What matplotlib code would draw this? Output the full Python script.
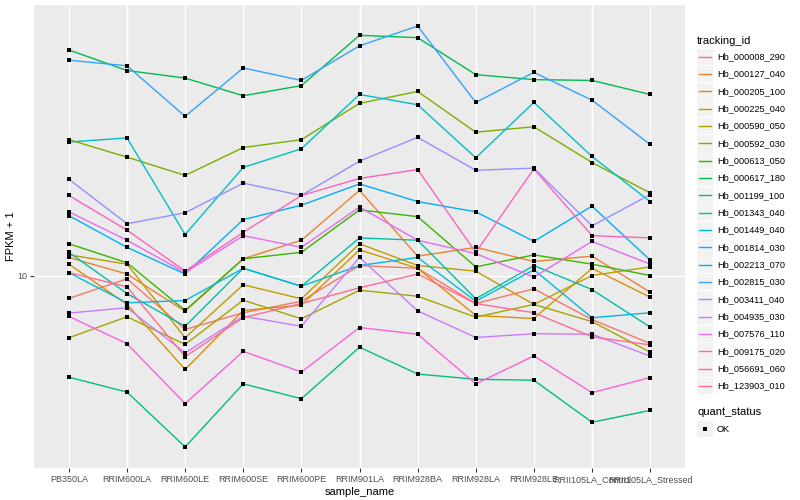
import matplotlib
matplotlib.use('Agg')
import matplotlib.pyplot as plt
from matplotlib.patches import Rectangle
from matplotlib.ticker import NullLocator
import numpy as np

plt.rcParams['font.family'] = ['Liberation Sans', 'DejaVu Sans']

samples = ['PB350LA', 'RRIM600LA', 'RRIM600LE', 'RRIM600SE', 'RRIM600PE',
           'RRIM901LA', 'RRIM928BA', 'RRIM928LA', 'RRIM928LE',
           'RRII105LA_Control', 'RRII105LA_Stressed']

tracking_ids = ['Hb_000008_290', 'Hb_000127_040', 'Hb_000205_100', 'Hb_000225_040',
                'Hb_000590_050', 'Hb_000592_030', 'Hb_000613_050', 'Hb_000617_180',
                'Hb_001199_100', 'Hb_001343_040', 'Hb_001449_040', 'Hb_001814_030',
                'Hb_002213_070', 'Hb_002815_030', 'Hb_003411_040', 'Hb_004935_030',
                'Hb_007576_110', 'Hb_009175_020', 'Hb_056691_060', 'Hb_123903_010']

# FPKM + 1, one list per gene, in sample order
hb_000008_290 = [8.56, 9.78, 6.94, 7.77, 8.40, 10.7, 10.5, 8.27, 9.14, 7.42, 6.31]
hb_000127_040 = [11.3, 10.1, 7.85, 11.2, 12.7, 17.8, 11.4, 12.1, 11.0, 11.4, 8.93]
hb_000205_100 = [10.8, 8.22, 5.29, 7.89, 8.18, 11.9, 10.5, 7.63, 7.47, 10.5, 8.63]
hb_000225_040 = [11.5, 10.8, 6.56, 9.39, 8.54, 12.4, 10.7, 10.3, 8.22, 10.0, 10.6]
hb_000590_050 = [6.56, 7.56, 6.27, 8.46, 7.46, 9.05, 8.69, 7.54, 8.22, 7.32, 5.95]
hb_000592_030 = [25.1, 22.3, 19.7, 23.8, 25.1, 32.1, 34.8, 26.4, 27.4, 21.5, 17.5]
hb_000613_050 = [12.4, 10.9, 7.89, 11.2, 11.7, 15.6, 14.9, 10.6, 11.5, 10.8, 10.0]
hb_000617_180 = [46.1, 40.1, 38.1, 33.8, 36.2, 50.9, 50.1, 39.0, 37.7, 37.5, 34.1]
hb_001199_100 = [5.02, 4.54, 3.13, 4.80, 4.34, 6.15, 5.13, 4.95, 4.92, 3.70, 4.01]
hb_001343_040 = [11.7, 8.85, 7.09, 10.5, 9.30, 12.9, 12.7, 8.54, 10.7, 9.09, 7.05]
hb_001449_040 = [24.7, 25.4, 13.2, 20.8, 23.6, 34.1, 31.8, 22.2, 32.3, 22.4, 16.5]
hb_001814_030 = [10.2, 8.31, 8.44, 10.5, 9.30, 10.7, 11.3, 8.40, 10.4, 7.51, 7.77]
hb_002213_070 = [15.0, 12.1, 10.1, 14.6, 16.1, 18.6, 16.5, 15.4, 12.6, 16.0, 11.1]
hb_002815_030 = [43.0, 41.4, 29.4, 40.8, 37.5, 47.4, 54.2, 32.3, 39.6, 32.8, 24.3]
hb_003411_040 = [19.2, 14.2, 15.3, 18.7, 17.2, 21.7, 25.5, 20.4, 20.7, 14.0, 17.3]
hb_004935_030 = [7.75, 8.04, 5.92, 7.59, 7.09, 11.3, 7.87, 6.57, 6.74, 6.72, 5.79]
hb_007576_110 = [15.4, 12.7, 10.2, 13.1, 12.1, 15.9, 12.7, 11.6, 9.89, 12.6, 10.8]
hb_009175_020 = [7.58, 6.30, 4.20, 5.98, 5.20, 7.03, 6.72, 4.80, 5.80, 4.52, 5.01]
hb_056691_060 = [17.2, 13.6, 10.3, 13.4, 17.2, 19.3, 20.5, 11.7, 20.6, 13.1, 12.9]
hb_123903_010 = [10.2, 9.26, 5.77, 7.52, 8.27, 9.20, 10.1, 8.27, 7.77, 6.60, 6.25]

series = [hb_000008_290, hb_000127_040, hb_000205_100, hb_000225_040, hb_000590_050,
          hb_000592_030, hb_000613_050, hb_000617_180, hb_001199_100, hb_001343_040,
          hb_001449_040, hb_001814_030, hb_002213_070, hb_002815_030, hb_003411_040,
          hb_004935_030, hb_007576_110, hb_009175_020, hb_056691_060, hb_123903_010]

# ggplot hue palette, 20 levels
colours = ['#F8766D', '#EA8331', '#D89000', '#C09B00', '#A3A500', '#7CAE00', '#39B600',
           '#00BB4E', '#00BF7D', '#00C1A3', '#00BFC4', '#00BAE0', '#00B0F6', '#35A2FF',
           '#9590FF', '#C77CFF', '#E76BF3', '#FA62DB', '#FF62BC', '#FF6C91']

W, H = 800, 500
fig = plt.figure(figsize=(W / 100, H / 100), dpi=100)
ax = fig.add_axes([34 / W, 32 / H, 651 / W, 463 / H])
ax.set_facecolor('#EBEBEB')

x = np.arange(len(samples))
for vals, col in zip(series, colours):
    ax.plot(x, vals, color=col, lw=1.0, zorder=3)
for vals in series:
    ax.plot(x, vals, 's', color='black', ms=2.6, mew=0, zorder=4)

# log10 scale, limits expanded 5% like ggplot
ax.set_yscale('log')
allv = np.log10(np.concatenate([np.array(s) for s in series]))
lo, hi = allv.min(), allv.max()
pad = (hi - lo) * 0.05
ax.set_ylim(10 ** (lo - pad), 10 ** (hi + pad))
ax.set_xlim(-0.6, len(samples) - 0.4)
ax.set_yticks([10])
ax.set_yticklabels(['10'])
ax.yaxis.set_minor_locator(NullLocator())
ax.set_xticks(x)
ax.set_xticklabels(samples)

ax.grid(True, color='white', lw=1.0)
ax.set_axisbelow(True)
for s in ax.spines.values():
    s.set_visible(False)
ax.tick_params(axis='both', length=3, width=0.8, color='#333333',
               labelcolor='#4D4D4D', labelsize=6.5, pad=2)
ax.set_xlabel('sample_name', fontsize=8, labelpad=2)
ax.set_ylabel('FPKM + 1', fontsize=8, labelpad=1)

# legends drawn in figure pixel space
lg = fig.add_axes([0, 0, 1, 1], facecolor='none')
lg.set_xlim(0, W)
lg.set_ylim(H, 0)
lg.axis('off')

lg.text(697, 40.5, 'tracking_id', fontsize=8, va='center', ha='left')
for i, (name, col) in enumerate(zip(tracking_ids, colours)):
    yc = 56.7 + i * 17.33
    lg.add_patch(Rectangle((697, yc - 8.2), 16.4, 16.4, facecolor='#F2F2F2', edgecolor='none'))
    lg.plot([699, 711], [yc, yc], color=col, lw=1.0)
    lg.text(717, yc, name, fontsize=6.6, va='center', ha='left')

lg.text(697, 412, 'quant_status', fontsize=8, va='center', ha='left')
lg.add_patch(Rectangle((697, 429 - 8.2), 16.4, 16.4, facecolor='#F2F2F2', edgecolor='none'))
lg.plot([705], [429], 's', color='black', ms=2.6, mew=0)
lg.text(717, 429, 'OK', fontsize=6.6, va='center', ha='left')

fig.savefig('out.png', dpi=100, facecolor='white')
